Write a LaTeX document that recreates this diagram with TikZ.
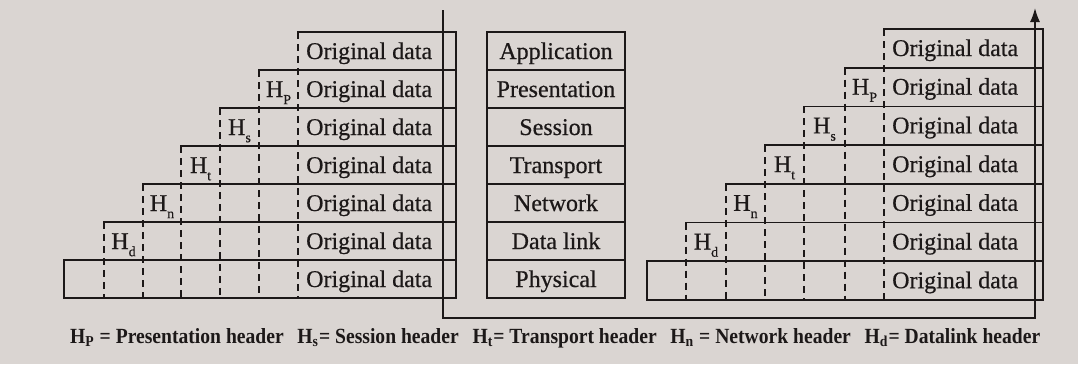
\documentclass[tikz,border=0pt]{standalone}
\usepackage{fontspec}
\usepackage{graphicx}
\setmainfont{Liberation Serif}
\newfontfamily\inkfont{Liberation Serif}[FakeBold=0.5]
\usetikzlibrary{arrows.meta}
\definecolor{paper}{RGB}{218,213,210}
\definecolor{ink}{RGB}{28,24,24}
\newcommand{\hsub}[1]{H\raisebox{-0.3em}{\fontsize{14pt}{14pt}\selectfont #1}}
\newcommand{\lsub}[1]{H\textsubscript{#1}}
\begin{document}
\begin{tikzpicture}[x=1pt,y=-1pt,
  box/.style={draw=ink, line width=1.6pt, line cap=rect},
  dsh/.style={draw=ink, line width=1.4pt, dash pattern=on 7pt off 5pt},
  txt/.style={font=\inkfont\fontsize{24pt}{24pt}\selectfont, text=ink, inner sep=0pt},
  hdr/.style={font=\inkfont\fontsize{24pt}{24pt}\selectfont, text=ink, inner sep=0pt, anchor=base},
  flow/.style={draw=ink, line width=1.6pt, -{Latex[length=14pt,width=10pt]}}]
\fill[paper] (0,0) rectangle (1078,364);
\useasboundingbox (0,0) rectangle (1078,364);

% ---------- left stack (sender) ----------
\foreach \i/\xl in {0/298,1/259,2/220,3/181,4/143,5/104,6/64} {
  \draw[box] (\xl,32+38*\i) -- (456,32+38*\i);
  \node[txt, anchor=base west] (Lo\i) at (306,59+38*\i) {Original data};
}
\foreach \i/\xl in {0/298,1/259,2/220,3/181,4/143,5/104} {
  \draw[dsh] (\xl,32+38*\i) -- (\xl,298);
}
\draw[box] (456,32) -- (456,298);
\draw[box] (64,260) -- (64,298) -- (456,298);
\node[hdr] (LhP) at (278.5,97)  {\hsub{P}};
\node[hdr] (Lhs) at (239.5,135) {\hsub{s}};
\node[hdr] (Lht) at (200.5,173) {\hsub{t}};
\node[hdr] (Lhn) at (162,211)   {\hsub{n}};
\node[hdr] (Lhd) at (123.5,249) {\hsub{d}};

% ---------- middle stack (layers) ----------
\draw[box] (487,32) rectangle (625,298);
\foreach \i in {1,...,6} { \draw[box] (487,32+38*\i) -- (625,32+38*\i); }
\foreach \i/\t in {0/Application,1/Presentation,2/Session,3/Transport,4/Network,5/Data link,6/Physical} {
  \node[hdr] (M\i) at (556,59+38*\i) {\t};
}

% ---------- right stack (receiver) ----------
\foreach \i/\xl in {0/884,1/845,2/804,3/765,4/726,5/686,6/647} {
  \draw[box] (\xl,29+38.7*\i) -- (1043,29+38.7*\i);
  \node[txt, anchor=base west] (Ro\i) at (892,56+38.7*\i) {Original data};
}
\foreach \i/\xl in {0/884,1/845,2/804,3/765,4/726,5/686} {
  \draw[dsh] (\xl,29+38.7*\i) -- (\xl,300);
}
\draw[box] (1043,29) -- (1043,300);
\draw[box] (647,261) -- (647,300) -- (1043,300);
\node[hdr] (RhP) at (864.5,94.7)  {\hsub{P}};
\node[hdr] (Rhs) at (824.5,133.4) {\hsub{s}};
\node[hdr] (Rht) at (784.5,172.1) {\hsub{t}};
\node[hdr] (Rhn) at (745.5,210.8) {\hsub{n}};
\node[hdr] (Rhd) at (706,249.5)   {\hsub{d}};

% ---------- data flow ----------
\coordinate (ftop) at (443,10);
\coordinate (fbl) at (443,318);
\coordinate (fbr) at (1035,318);
\coordinate (fend) at (1035,8);
\draw[flow] (ftop) -- (fbl) -- (fbr) -- (fend);

% ---------- legend ----------
\node[anchor=base west, inner sep=0pt, text=ink] (leg) at (70,343)
  {\resizebox{970pt}{15pt}{\bfseries \lsub{P} = Presentation header\hspace{0.7em}\lsub{s}= Session header\hspace{0.7em}\lsub{t}= Transport header\hspace{0.7em}\lsub{n} = Network header\hspace{0.7em}\lsub{d}= Datalink header}};
\end{tikzpicture}
\end{document}
